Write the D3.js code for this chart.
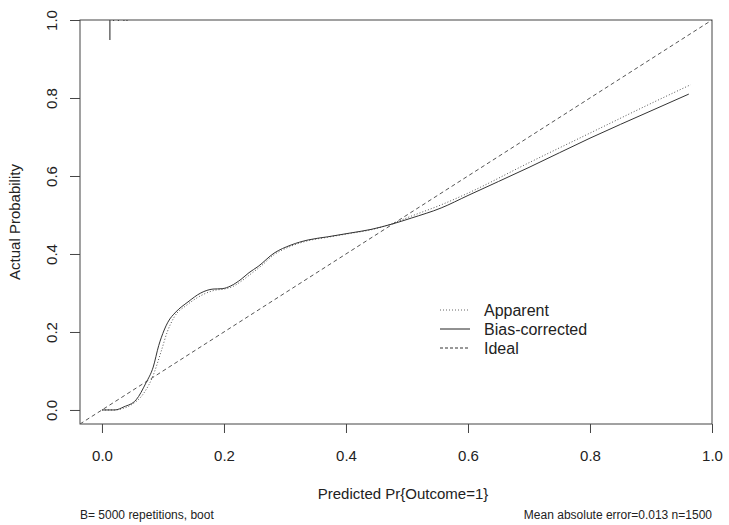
<!DOCTYPE html>
<html>
<head>
<meta charset="utf-8">
<script src="https://cdn.jsdelivr.net/npm/d3@7"></script>
<style>
  body { margin: 0; background: #fff; }
  svg { font-family: "Liberation Sans", Arial, sans-serif; }
  .axis path, .axis line { stroke: #444; }
  .axis text { fill: #222; font-size: 15px; }
</style>
</head>
<body>
<div class="chart"></div>
<script>
// calibration curve
const apparentX = [0.0, 0.02, 0.035, 0.048, 0.069, 0.083, 0.097, 0.107, 0.118, 0.14, 0.162, 0.185, 0.2, 0.215, 0.23, 0.245, 0.26, 0.282, 0.31, 0.338, 0.37, 0.408, 0.441, 0.474, 0.507, 0.556, 0.6, 0.7, 0.8, 0.9, 0.965]
const apparentY = [0.0, 0.0, 0.004, 0.013, 0.044, 0.085, 0.15, 0.2, 0.237, 0.27, 0.293, 0.307, 0.31, 0.317, 0.332, 0.35, 0.368, 0.398, 0.42, 0.434, 0.443, 0.453, 0.462, 0.477, 0.497, 0.526, 0.556, 0.634, 0.71, 0.786, 0.834]

const biasX = [0.0, 0.021, 0.036, 0.056, 0.072, 0.084, 0.093, 0.102, 0.108, 0.121, 0.141, 0.162, 0.182, 0.197, 0.211, 0.228, 0.241, 0.256, 0.282, 0.31, 0.338, 0.37, 0.408, 0.441, 0.474, 0.507, 0.556, 0.6, 0.7, 0.8, 0.9, 0.962]
const biasY = [0.0, 0.0, 0.008, 0.026, 0.069, 0.11, 0.165, 0.205, 0.225, 0.251, 0.277, 0.3, 0.31, 0.311, 0.318, 0.335, 0.352, 0.368, 0.402, 0.423, 0.436, 0.444, 0.454, 0.463, 0.476, 0.492, 0.518, 0.55, 0.622, 0.697, 0.767, 0.81]

// spike histogram of predictions along the top
const spikeX = [0.013, 0.019, 0.027, 0.036, 0.041]
const spikeN = [100, 4, 3, 3, 2]

const tickVals = [0, 0.2, 0.4, 0.6, 0.8, 1.0]
const legendLabels = ["Apparent", "Bias-corrected", "Ideal"]
const xTitle = "Predicted Pr{Outcome=1}"
const yTitle = "Actual Probability"
const subLeft = "B= 5000 repetitions, boot"
const subRight = "Mean absolute error=0.013 n=1500"

const W = 729, H = 525
const box = ({left: 80, right: 712, top: 20, bottom: 424})

const svg = d3.select(".chart").append("svg")
  .attr("width", W)
  .attr("height", H)

const xScale = d3.scaleLinear().domain([-0.036, 1.0]).range([box.left, box.right])
const yScale = d3.scaleLinear().domain([-0.036, 1.0]).range([box.bottom, box.top])
const spikeLen = d3.scaleLinear().domain([0, 100]).range([0, 20])

// axes
const xAxis = d3.axisBottom(xScale).tickValues(tickVals).tickFormat(d3.format(".1f"))
  .tickSize(9).tickPadding(17)
svg.append("g")
  .attr("class", "axis x-axis")
  .attr("transform", `translate(0, ${box.bottom})`)
  .call(xAxis)
  .call(g => g.select(".domain").remove())

const yAxis = d3.axisLeft(yScale).tickValues(tickVals).tickFormat(d3.format(".1f"))
  .tickSize(10)
svg.append("g")
  .attr("class", "axis y-axis")
  .attr("transform", `translate(${box.left}, 0)`)
  .call(yAxis)
  .call(g => g.select(".domain").remove())
  .selectAll("text")
  .attr("transform", "rotate(-90)")
  .attr("x", 0)
  .attr("y", -23)
  .attr("dy", 0)
  .attr("text-anchor", "middle")

// box
svg.append("rect")
  .attr("x", box.left).attr("y", box.top)
  .attr("width", box.right - box.left).attr("height", box.bottom - box.top)
  .attr("fill", "none")
  .attr("stroke", "#444")
  .attr("stroke-width", 1)

svg.append("clipPath").attr("id", "clip")
  .append("rect")
  .attr("x", box.left).attr("y", box.top)
  .attr("width", box.right - box.left).attr("height", box.bottom - box.top)

const plot = svg.append("g").attr("clip-path", "url(#clip)")

// ideal line
plot.append("line")
  .attr("x1", xScale(-0.036)).attr("y1", yScale(-0.036))
  .attr("x2", xScale(1.0)).attr("y2", yScale(1.0))
  .attr("stroke", "#555")
  .attr("stroke-dasharray", "4,3")

const line = d3.line()
  .x(d => xScale(d[0]))
  .y(d => yScale(d[1]))
  .curve(d3.curveMonotoneX)

plot.append("path")
  .datum(apparentX.map((x, i) => [x, apparentY[i]]))
  .attr("fill", "none")
  .attr("stroke", "#555")
  .attr("stroke-width", 1)
  .attr("stroke-dasharray", "1,2")
  .attr("d", line)

plot.append("path")
  .datum(biasX.map((x, i) => [x, biasY[i]]))
  .attr("fill", "none")
  .attr("stroke", "#333")
  .attr("stroke-width", 1)
  .attr("d", line)

// spikes
svg.selectAll(".spike")
  .data(spikeX)
  .enter()
  .append("line")
  .attr("class", "spike")
  .attr("x1", d => xScale(d)).attr("x2", d => xScale(d))
  .attr("y1", box.top)
  .attr("y2", (d, i) => box.top + Math.max(1, spikeLen(spikeN[i])))
  .attr("stroke", "#444")
  .attr("stroke-width", 1.2)

// legend
const dashes = ["1,2", null, "3,2"]
const colors = ["#666", "#222", "#333"]
const lg = svg.append("g").attr("transform", "translate(440, 310)")
legendLabels.forEach((lab, i) => {
  lg.append("line")
    .attr("x1", 0).attr("x2", 30)
    .attr("y1", i * 19).attr("y2", i * 19)
    .attr("stroke", colors[i])
    .attr("stroke-dasharray", dashes[i])
  lg.append("text")
    .attr("x", 44).attr("y", i * 19)
    .attr("dy", "0.35em")
    .attr("font-size", 16)
    .attr("fill", "#222")
    .text(lab)
})

// titles
svg.append("text")
  .attr("x", (box.left + box.right) / 2 + 7)
  .attr("y", 499)
  .attr("text-anchor", "middle")
  .attr("font-size", 15)
  .attr("fill", "#222")
  .text(xTitle)

svg.append("text")
  .attr("transform", `translate(20, ${(box.top + box.bottom) / 2}) rotate(-90)`)
  .attr("text-anchor", "middle")
  .attr("font-size", 15)
  .attr("fill", "#222")
  .text(yTitle)

svg.append("text")
  .attr("x", box.left).attr("y", 519)
  .attr("font-size", 12)
  .attr("fill", "#222")
  .text(subLeft)

svg.append("text")
  .attr("x", box.right).attr("y", 519)
  .attr("text-anchor", "end")
  .attr("font-size", 12)
  .attr("fill", "#222")
  .text(subRight)
</script>
</body>
</html>
